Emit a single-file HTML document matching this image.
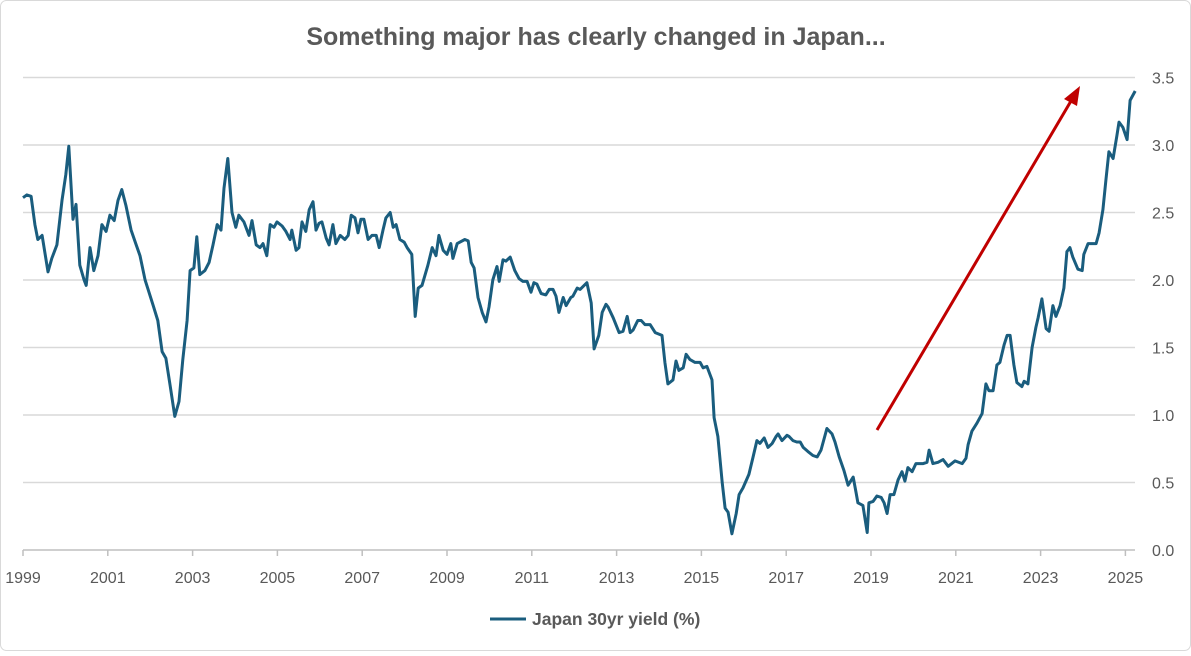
<!DOCTYPE html>
<html><head><meta charset="utf-8"><style>
body{margin:0;background:#fff;font-family:"Liberation Sans",sans-serif}
#wrap{position:relative;width:1191px;height:651px}
</style></head><body>
<div id="wrap">
<svg id="chart" width="1191" height="651"></svg>
</div>
<script>
const yearsSince1999=[0,.09,.19,.28,.35,.45,.59,.68,.80,.92,1.01,1.08,1.18,1.25,1.34,1.44,1.49,1.58,1.67,1.77,1.86,1.96,2.05,2.15,2.24,2.33,2.43,2.55,2.67,2.76,2.88,2.95,3.07,3.18,3.28,3.37,3.47,3.58,3.68,3.77,3.87,3.94,4.03,4.10,4.17,4.29,4.39,4.48,4.58,4.67,4.74,4.83,4.93,5.02,5.09,5.21,5.33,5.40,5.50,5.59,5.66,5.75,5.83,5.92,5.99,6.11,6.20,6.30,6.34,6.44,6.51,6.58,6.67,6.75,6.84,6.91,6.98,7.05,7.15,7.22,7.31,7.38,7.48,7.59,7.67,7.74,7.83,7.90,7.97,8.04,8.14,8.23,8.33,8.40,8.49,8.56,8.66,8.73,8.80,8.89,8.99,9.06,9.17,9.25,9.32,9.41,9.55,9.65,9.74,9.81,9.91,10.00,10.09,10.14,10.24,10.42,10.50,10.57,10.64,10.73,10.83,10.92,10.99,11.08,11.18,11.23,11.32,11.39,11.49,11.60,11.70,11.79,11.89,11.98,12.05,12.12,12.22,12.33,12.41,12.50,12.57,12.64,12.74,12.81,12.92,12.97,13.07,13.14,13.30,13.40,13.47,13.58,13.66,13.75,13.80,13.92,14.06,14.15,14.25,14.32,14.39,14.50,14.58,14.67,14.79,14.91,15.07,15.14,15.21,15.33,15.40,15.47,15.57,15.64,15.73,15.85,15.97,16.04,16.13,16.25,16.30,16.39,16.49,16.56,16.63,16.72,16.82,16.89,16.98,17.12,17.22,17.31,17.38,17.48,17.57,17.67,17.76,17.81,17.90,18.02,18.07,18.16,18.25,18.33,18.40,18.51,18.63,18.73,18.82,18.96,19.08,19.15,19.25,19.36,19.46,19.58,19.65,19.69,19.81,19.91,19.95,20.05,20.14,20.24,20.31,20.38,20.45,20.54,20.64,20.73,20.80,20.87,20.97,21.06,21.23,21.32,21.37,21.46,21.58,21.70,21.82,21.98,22.15,22.24,22.29,22.38,22.50,22.62,22.71,22.78,22.88,22.97,23.04,23.14,23.21,23.28,23.37,23.44,23.56,23.61,23.70,23.80,23.89,23.94,24.03,24.13,24.20,24.29,24.36,24.46,24.55,24.62,24.69,24.76,24.88,24.98,25.02,25.12,25.21,25.31,25.38,25.47,25.54,25.61,25.71,25.80,25.85,25.94,26.04,26.11,26.23];
const yieldValues=[2.61,2.63,2.62,2.41,2.30,2.33,2.06,2.16,2.26,2.59,2.78,2.99,2.45,2.56,2.11,2.00,1.96,2.24,2.07,2.18,2.41,2.36,2.48,2.44,2.59,2.67,2.55,2.37,2.26,2.18,2.00,1.93,1.81,1.70,1.47,1.42,1.22,0.99,1.10,1.41,1.70,2.07,2.09,2.32,2.04,2.07,2.13,2.26,2.41,2.37,2.68,2.90,2.50,2.39,2.48,2.43,2.33,2.44,2.26,2.24,2.27,2.18,2.41,2.39,2.43,2.40,2.36,2.30,2.37,2.22,2.24,2.43,2.36,2.52,2.58,2.37,2.42,2.43,2.31,2.26,2.41,2.27,2.33,2.30,2.33,2.48,2.46,2.35,2.45,2.45,2.30,2.33,2.33,2.24,2.37,2.46,2.50,2.39,2.41,2.30,2.28,2.24,2.19,1.73,1.94,1.96,2.11,2.24,2.18,2.33,2.22,2.19,2.27,2.16,2.27,2.30,2.29,2.13,2.09,1.87,1.76,1.69,1.80,2.00,2.10,1.99,2.15,2.14,2.17,2.07,2.01,1.99,1.99,1.91,1.98,1.97,1.90,1.89,1.93,1.93,1.88,1.76,1.87,1.81,1.87,1.88,1.94,1.93,1.98,1.83,1.49,1.59,1.76,1.82,1.80,1.72,1.61,1.62,1.73,1.61,1.63,1.70,1.70,1.67,1.67,1.61,1.59,1.39,1.23,1.26,1.40,1.33,1.35,1.45,1.41,1.39,1.39,1.35,1.36,1.26,0.98,0.84,0.50,0.31,0.28,0.12,0.27,0.41,0.46,0.56,0.69,0.81,0.79,0.83,0.76,0.79,0.84,0.86,0.81,0.85,0.84,0.81,0.80,0.80,0.76,0.73,0.70,0.69,0.74,0.90,0.86,0.80,0.69,0.59,0.48,0.54,0.42,0.35,0.33,0.13,0.35,0.36,0.40,0.39,0.35,0.27,0.41,0.41,0.52,0.58,0.51,0.61,0.58,0.64,0.64,0.65,0.74,0.64,0.65,0.67,0.62,0.66,0.64,0.68,0.78,0.88,0.94,1.01,1.23,1.18,1.18,1.37,1.39,1.52,1.59,1.59,1.37,1.24,1.21,1.25,1.23,1.50,1.65,1.72,1.86,1.64,1.62,1.81,1.73,1.81,1.94,2.21,2.24,2.17,2.08,2.07,2.19,2.27,2.27,2.27,2.35,2.52,2.74,2.95,2.90,3.07,3.17,3.13,3.04,3.33,3.40];
const yTicks=[0,0.5,1,1.5,2,2.5,3,3.5];
const xTickYears=[1999,2001,2003,2005,2007,2009,2011,2013,2015,2017,2019,2021,2023,2025];

const NS="http://www.w3.org/2000/svg";
const svg=document.getElementById('chart');
const X0=23,PXY=42.4,Y0=550,PXV=135,XR=1135;
const xs=y=>X0+(y-1999)*PXY;
const ys=v=>Y0-v*PXV;
function mk(tag,attrs,parent){const e=document.createElementNS(NS,tag);for(const k in attrs)e.setAttribute(k,attrs[k]);(parent||svg).appendChild(e);return e;}

const border=mk('rect',{x:0.5,y:0.5,width:1190,height:650,rx:6,fill:'#fff',stroke:'#d9d9d9'});



const title=mk('text',{x:596,y:45,'text-anchor':'middle','font-size':25,'font-weight':'bold',fill:'#595959','font-family':'Liberation Sans, sans-serif'});
title.textContent='Something major has clearly changed in Japan...';



yTicks.forEach(v=>{
  if(v>0){const g=mk('line',{x1:X0,x2:XR,y1:ys(v),y2:ys(v),stroke:'#d9d9d9','stroke-width':1.5});
  
  }
  const t=mk('text',{x:1152,y:ys(v)+6,'font-size':16,fill:'#595959'});
  t.textContent=v.toFixed(1);
  
  
});
const ax=mk('line',{x1:X0,x2:XR,y1:Y0,y2:Y0,stroke:'#bfbfbf','stroke-width':1.5});


xTickYears.forEach(yr=>{
  const tk=mk('line',{x1:xs(yr),x2:xs(yr),y1:Y0,y2:Y0+6,stroke:'#bfbfbf','stroke-width':1.5});
  
  
  const t=mk('text',{x:xs(yr),y:583,'text-anchor':'middle','font-size':16,fill:'#595959'});
  t.textContent=yr;
  
  
});

const d=yieldValues.map((v,i)=>(i?'L':'M')+xs(1999+yearsSince1999[i]).toFixed(1)+','+ys(v).toFixed(1)).join('');
const line=mk('path',{d:d,fill:'none',stroke:'#1a5d7e','stroke-width':3,'stroke-linejoin':'round'});



const arrow=mk('line',{x1:877,y1:430,x2:1071,y2:101,stroke:'#c00000','stroke-width':3});


const head=mk('polygon',{points:'1080,86 1064,99 1077,106',fill:'#c00000'});



const lg=mk('line',{x1:490,x2:526,y1:619,y2:619,stroke:'#1a5d7e','stroke-width':3});


const lt=mk('text',{x:532,y:625,'font-size':17.5,'font-weight':'bold',fill:'#595959'});
lt.textContent='Japan 30yr yield (%)';


</script>
</body></html>
